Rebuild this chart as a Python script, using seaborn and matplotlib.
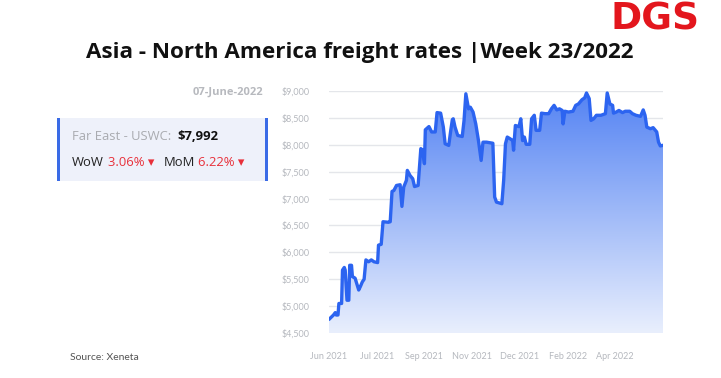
import numpy as np
import pandas as pd
import matplotlib
matplotlib.use("Agg")
import matplotlib.pyplot as plt
import matplotlib.dates as mdates
from matplotlib.colors import LinearSegmentedColormap
from matplotlib.patches import Rectangle
import seaborn as sns

# Dados (dias desde 01/06/2021, USD por FEU)
dias = [0, 5, 7, 8, 10, 11, 14, 15, 17, 18,
        20, 22, 23, 25, 26, 29, 33, 35, 37, 39,
        41, 44, 47, 50, 54, 55, 58, 60, 66, 68,
        70, 72, 75, 79, 81, 83, 86, 87, 90, 93,
        95, 99, 102, 104, 106, 107, 111, 114, 118, 120,
        124, 127, 129, 133, 135, 137, 138, 140, 143, 148,
        150, 152, 155, 157, 160, 163, 166, 169, 171, 175,
        182, 184, 186, 190, 192, 194, 196, 198, 201, 204,
        205, 207, 211, 213, 215, 217, 219, 223, 225, 228,
        230, 234, 236, 240, 244, 247, 250, 253, 256, 259,
        260, 262, 266, 271, 274, 277, 281, 284, 286, 289,
        291, 294, 297, 302, 307, 309, 312, 315, 316, 319,
        322, 326, 329, 334, 337, 341, 346, 349, 351, 353,
        357, 360, 364, 366, 368, 371]
taxas = [4754, 4835, 4880, 4835, 4835, 5050, 5050, 5670, 5720, 5670,
         5110, 5110, 5760, 5760, 5550, 5520, 5300, 5370, 5450, 5500,
         5860, 5825, 5860, 5825, 5810, 6135, 6150, 6570, 6560, 6570,
         7134, 7150, 7245, 7258, 6855, 7215, 7340, 7525, 7430, 7370,
         7225, 7245, 7930, 7900, 7650, 8280, 8340, 8240, 8240, 8600,
         8590, 8330, 8020, 7990, 8240, 8470, 8485, 8330, 8175, 8155,
         8455, 8950, 8670, 8700, 8610, 8390, 8080, 7710, 8050, 8050,
         8030, 7030, 6935, 6915, 6905, 7340, 8020, 8145, 8115, 8080,
         7900, 8360, 8340, 8485, 8080, 8145, 8010, 8010, 8485, 8550,
         8270, 8270, 8590, 8580, 8580, 8670, 8735, 8650, 8670, 8640,
         8390, 8625, 8610, 8625, 8735, 8760, 8840, 8875, 8965, 8860,
         8455, 8485, 8550, 8550, 8580, 8965, 8760, 8735, 8590, 8610,
         8640, 8600, 8625, 8625, 8580, 8550, 8530, 8650, 8550, 8330,
         8300, 8320, 8240, 8050, 7980, 7992]
ticks_x = ["2021-06-01", "2021-07-24", "2021-09-15", "2021-11-07",
           "2021-12-30", "2022-02-21", "2022-04-15"]
ticks_y = [4500, 5000, 5500, 6000, 6500, 7000, 7500, 8000, 8500, 9000]

df = pd.DataFrame({"data": pd.Timestamp("2021-06-01") + pd.to_timedelta(dias, unit="D"),
                   "taxa": taxas})

sns.set_theme(style="white")
plt.rcParams["font.family"] = ["Lato", "DejaVu Sans"]

fig = plt.figure(figsize=(7.21, 3.78), dpi=100)
ax = fig.add_axes([0.4563, 0.119, 0.4633, 0.640])

azul = "#2C64F0"
sns.lineplot(data=df, x="data", y="taxa", color=azul, linewidth=2.4, ax=ax, zorder=3)

# Preenchimento em degradê
poly = ax.fill_between(df["data"], df["taxa"], 4500, color="none")
cmap = LinearSegmentedColormap.from_list("grad", ["#E9EFFD", "#5483F3"])
x0, x1 = mdates.date2num(df["data"].iloc[0]), mdates.date2num(df["data"].iloc[-1])
grad = np.linspace(0, 1, 256).reshape(-1, 1)
img = ax.imshow(grad, cmap=cmap, aspect="auto", origin="lower",
                extent=[x0, x1, 4500, 9000], zorder=2)
img.set_clip_path(poly.get_paths()[0], transform=ax.transData)

ax.set_xlim(x0, x1)
ax.set_ylim(4500, 9000)
ax.set_yticks(ticks_y)
ax.set_yticklabels([f"${v:,}" for v in ticks_y])
ax.set_xticks(pd.to_datetime(ticks_x))
ax.xaxis.set_major_formatter(mdates.DateFormatter("%b %Y"))
ax.grid(axis="y", color="#E4E6EA", linewidth=1)
ax.set_axisbelow(True)
for s in ax.spines.values():
    s.set_visible(False)
ax.tick_params(axis="both", length=0, labelsize=6.5, colors="#B5B8BE")
ax.tick_params(axis="x", pad=14)
ax.tick_params(axis="y", pad=14)
ax.set_xlabel("")
ax.set_ylabel("")

# Título e textos
fig.text(0.499, 0.862, "Asia - North America freight rates |Week 23/2022",
         ha="center", va="center", fontsize=16.1, fontweight="bold",
         color="#111111", family=["Open Sans", "DejaVu Sans"])
fig.text(655 / 721, 1 - 19 / 378, "DGS", ha="center", va="center", fontsize=27,
         fontweight="bold", color="#E3161D", family=["DejaVu Sans"])
fig.text(263 / 721, 1 - 92 / 378, "07-June-2022", ha="right", va="center",
         fontsize=8, fontweight="bold", color="#B7B9BE", family=["Open Sans", "DejaVu Sans"])
fig.text(70 / 721, 1 - 357 / 378, "Source: Xeneta", ha="left", va="center",
         fontsize=7.5, color="#555555")

# Caixa de destaque
fig.patches.append(Rectangle((57 / 721, 1 - 181 / 378), 211 / 721, 63 / 378,
                             transform=fig.transFigure, facecolor="#EEF1FA",
                             edgecolor="none", zorder=0))
for xb in (57, 265):
    fig.patches.append(Rectangle((xb / 721, 1 - 181 / 378), 3 / 721, 63 / 378,
                                 transform=fig.transFigure, facecolor="#3A6BE6",
                                 edgecolor="none", zorder=1))

fonte = ["Open Sans", "DejaVu Sans"]
y1 = 1 - 137 / 378
y2 = 1 - 162 / 378
fig.text(72 / 721, y1, "Far East - USWC:", ha="left", va="center", fontsize=9.4,
         color="#A9ABB0", family=fonte)
fig.text(177 / 721, y1, "$7,992", ha="left", va="center", fontsize=9.4,
         fontweight="bold", color="#111111", family=fonte)
fig.text(72 / 721, y2, "WoW", ha="left", va="center", fontsize=9.4,
         color="#222222", family=fonte)
fig.text(108 / 721, y2, "3.06% \u25be", ha="left", va="center", fontsize=9.4,
         color="#E8303A", family=fonte)
fig.text(164 / 721, y2, "MoM", ha="left", va="center", fontsize=9.4,
         color="#222222", family=fonte)
fig.text(198 / 721, y2, "6.22% \u25be", ha="left", va="center", fontsize=9.4,
         color="#E8303A", family=fonte)

fig.savefig("out.png", dpi=100)
